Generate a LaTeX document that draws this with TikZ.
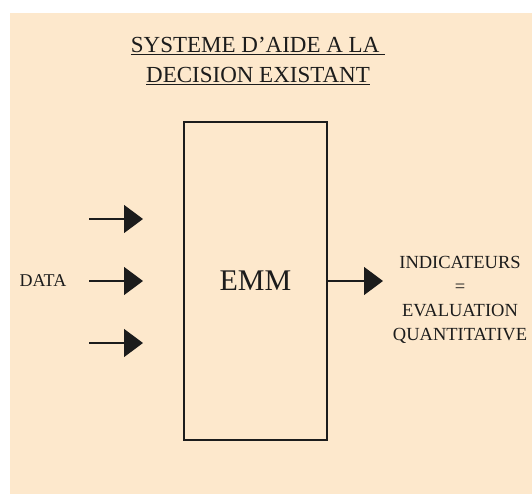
\documentclass[tikz,border=0pt]{standalone}
\usepackage{fontspec}
\setmainfont{Liberation Serif}
\usetikzlibrary{arrows.meta}
\definecolor{peche}{RGB}{253,232,204}
\definecolor{encre}{RGB}{28,28,28}
\tikzset{
  fleche/.style={line width=1.3pt, draw=encre, -{Triangle[length=19pt,width=28pt]}},
  texte/.style={text=encre, align=center},
}

\begin{document}
\begin{tikzpicture}[x=1pt,y=-1pt]
	\useasboundingbox (0,0) rectangle (532,494);
	\fill[peche] (10,13) rectangle (532,494);

	\node[texte, font=\fontsize{23}{30}\selectfont] (titre) at (258,61)
		{\underline{SYSTEME D’AIDE A LA\ }\\\underline{DECISION EXISTANT}};

	\node[draw=encre, line width=1.2pt, minimum width=143pt, minimum height=318pt,
		texte, font=\fontsize{30}{36}\selectfont] (emm) at (255.5,281) {EMM};

	\node[texte, font=\fontsize{18}{20}\selectfont] (data) at (43,281) {DATA};
	\foreach \y/\n in {219/1,281/2,343/3}{
		\coordinate (d\n) at (89,\y);
		\coordinate (f\n) at (143,\y);
		\draw[fleche] (d\n) -- (f\n);
	}

	\node[texte, font=\fontsize{18.5}{24}\selectfont] (ind) at (460,300)
		{INDICATEURS\\=\\EVALUATION\\QUANTITATIVE};
	\coordinate (sortie) at (383,281);
	\draw[fleche] (emm.east) -- (sortie);
\end{tikzpicture}
\end{document}
